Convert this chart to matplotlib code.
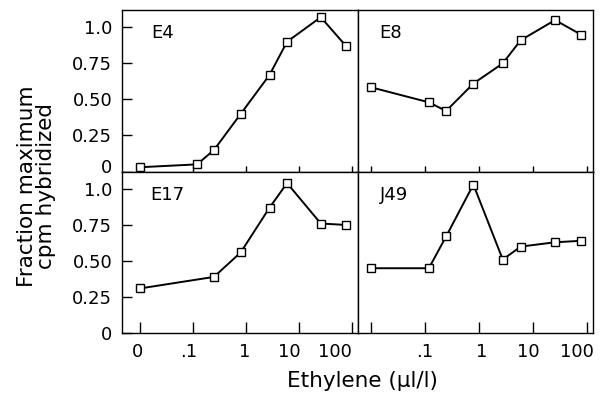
import matplotlib
matplotlib.use("Agg")
import matplotlib.pyplot as plt
import matplotlib.transforms as mtransforms
from matplotlib.ticker import NullLocator

# ethylene concentrations (ul/l) and fraction of max cpm hybridized
conc = [0, 0.12, 0.25, 0.8, 2.8, 6, 26, 78]
conc_e17 = [0, 0.25, 0.8, 2.8, 6, 26, 78]

frac_e4 = [0.03, 0.05, 0.15, 0.40, 0.67, 0.90, 1.07, 0.87]
frac_e8 = [0.585, 0.48, 0.42, 0.61, 0.75, 0.91, 1.05, 0.95]
frac_e17 = [0.31, 0.39, 0.56, 0.87, 1.04, 0.76, 0.75]
frac_j49 = [0.45, 0.45, 0.67, 1.03, 0.51, 0.60, 0.63, 0.64]

xticks = [0, 0.1, 1, 10, 100]
xlabels_left = ["0", ".1", "1", "10", "100"]
xlabels_right = ["", ".1", "1", "10", "100"]
yticks = [0, 0.25, 0.5, 0.75, 1.0]
ylabels = ["0", "0.25", "0.50", "0.75", "1.0"]

# hand-set label nudges (pixels) as in the original figure
xshift_left = [-3, -4, -1, -9, -17]
xshift_right = [0, 0, 3, -4, -10]

plt.rcParams["font.family"] = "DejaVu Sans"

fig = plt.figure(figsize=(6.01, 3.99), dpi=100)
gs = fig.add_gridspec(2, 2, left=0.203, right=0.987, top=0.975, bottom=0.165,
                      hspace=0, wspace=0)

panels = [
    (gs[0, 0], conc, frac_e4, "E4", (-0.034, 129), 0.126),
    (gs[0, 1], conc, frac_e8, "E8", (-0.024, 132), 0.094),
    (gs[1, 0], conc_e17, frac_e17, "E17", (-0.034, 129), 0.118),
    (gs[1, 1], conc, frac_j49, "J49", (-0.024, 132), 0.094),
]


def nudge(label, dx, dy):
    off = mtransforms.ScaledTranslation(dx / 100, dy / 100, fig.dpi_scale_trans)
    label.set_transform(label.get_transform() + off)


for i, (spec, x, y, name, xl, tx) in enumerate(panels):
    ax = fig.add_subplot(spec)
    ax.plot(x, y, color="black", lw=1.4, marker="s", ms=6,
            mfc="white", mec="black", mew=1.0, zorder=3)
    ax.set_xscale("symlog", linthresh=0.1, linscale=0.9)
    ax.set_xlim(*xl)
    ax.set_ylim(0, 1.12)
    ax.set_xticks(xticks)
    ax.xaxis.set_minor_locator(NullLocator())
    top = i < 2
    left = i % 2 == 0
    if top:
        ax.tick_params(axis="x", direction="inout", length=8, width=1,
                       labelbottom=False)
    else:
        ax.tick_params(axis="x", direction="in", length=8, width=1,
                       labelsize=13, pad=7)
        ax.set_xticklabels(xlabels_left if left else xlabels_right)
        shifts = xshift_left if left else xshift_right
        for lab, dx in zip(ax.get_xticklabels(), shifts):
            nudge(lab, dx, 0)
    if left:
        ax.set_yticks(yticks)
        ax.set_yticklabels(ylabels)
        ax.tick_params(axis="y", direction="in", length=7, width=1,
                       labelsize=13, pad=7)
        if top:
            nudge(ax.get_yticklabels()[0], 0, 6)
    else:
        ax.set_yticks([])
    for s in ax.spines.values():
        s.set_linewidth(1.0)
    ax.text(tx, 0.855, name, transform=ax.transAxes, fontsize=13,
            ha="left", va="center")

fig.text(0.061, 1 - 186 / 399, "Fraction maximum\ncpm hybridized",
         rotation=90, ha="center", va="center", fontsize=15.5, linespacing=0.95)
fig.text(362 / 601, 1 - 381 / 399, "Ethylene (\u00b5l/l)",
         ha="center", va="center", fontsize=15.5)

fig.savefig("out.png", dpi=100)
